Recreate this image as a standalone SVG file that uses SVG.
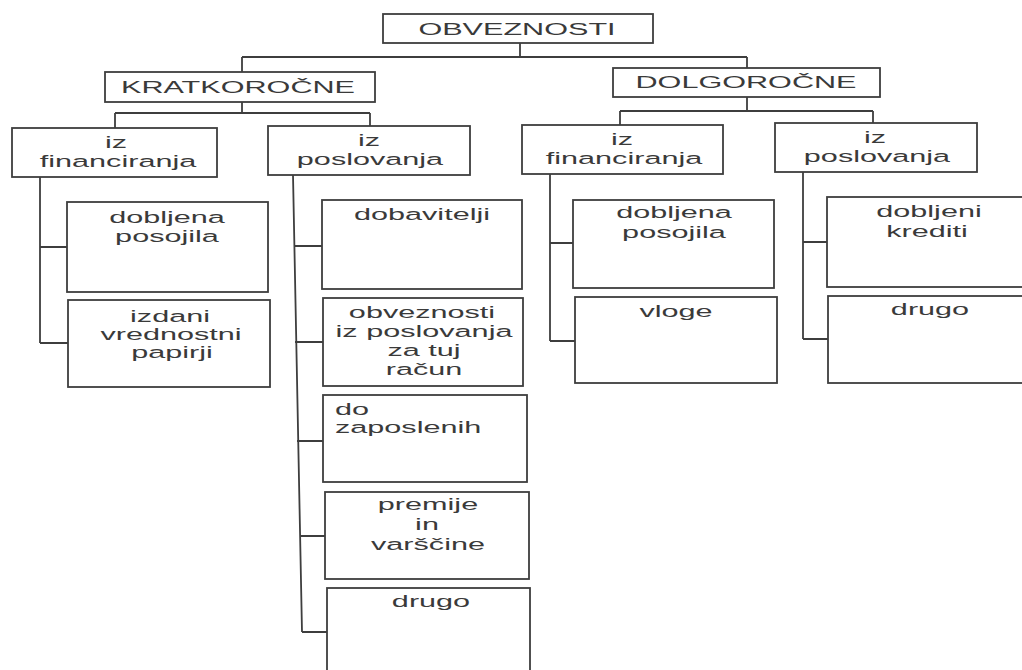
<svg xmlns="http://www.w3.org/2000/svg" width="1022" height="670" viewBox="0 0 1022 670">
  <style>
    .box { fill: #ffffff; stroke: #3e3e3e; stroke-width: 1.8; }
    .wire { fill: none; stroke: #3e3e3e; stroke-width: 1.8; }
    .lbl { font-family: "Liberation Sans", Arial, sans-serif; font-size: 17px; fill: #3a3a3a; text-anchor: middle; }
    .lft { text-anchor: start; }
  </style>
  <rect width="1022" height="670" fill="#ffffff"/>

  <!-- connectors -->
  <g id="connectors" class="wire">
    <path d="M520 43 V57 M242 57 H747 M242 57 V72 M747 57 V68"/>
    <path d="M242 102 V113 M115 113 H370 M115 113 V128 M370 113 V126"/>
    <path d="M747 97 V111 M620 111 H873 M620 111 V125 M873 111 V123"/>
    <path d="M40 177 V343 M40 247 H67 M40 343 H68"/>
    <path d="M293 175 L302 632 M294 246 H322 M295 342 H323 M297 441 H323 M300 536 H325 M302 632 H327"/>
    <path d="M550 174 V341 M550 243 H573 M550 341 H575"/>
    <path d="M803 172 V339 M803 242 H827 M803 339 H828"/>
  </g>

  <!-- root -->
  <g id="obveznosti">
    <rect class="box" x="383" y="14" width="270" height="29"/>
    <text class="lbl" transform="translate(517 0) scale(1.8 1)" x="0" y="35">OBVEZNOSTI</text>
  </g>

  <!-- short-term branch -->
  <g id="kratkorocne">
    <rect class="box" x="105" y="72" width="270" height="30"/>
    <text class="lbl" transform="translate(238 0) scale(1.8 1)" x="0" y="93">KRATKOROČNE</text>
  </g>
  <g id="k-financiranja">
    <rect class="box" x="12" y="128" width="205" height="49"/>
    <text class="lbl" transform="translate(116 0) scale(1.8 1)" x="0" y="148">iz</text>
    <text class="lbl" transform="translate(118 0) scale(1.8 1)" x="0" y="167">financiranja</text>
  </g>
  <g id="k-poslovanja">
    <rect class="box" x="268" y="126" width="202" height="49"/>
    <text class="lbl" transform="translate(369 0) scale(1.8 1)" x="0" y="146">iz</text>
    <text class="lbl" transform="translate(370 0) scale(1.8 1)" x="0" y="165">poslovanja</text>
  </g>
  <g id="k-posojila">
    <rect class="box" x="67" y="202" width="201" height="90"/>
    <text class="lbl" transform="translate(167 0) scale(1.8 1)" x="0" y="223">dobljena</text>
    <text class="lbl" transform="translate(167 0) scale(1.8 1)" x="0" y="242">posojila</text>
  </g>
  <g id="k-papirji">
    <rect class="box" x="68" y="300" width="202" height="87"/>
    <text class="lbl" transform="translate(170 0) scale(1.8 1)" x="0" y="322">izdani</text>
    <text class="lbl" transform="translate(171 0) scale(1.8 1)" x="0" y="340">vrednostni</text>
    <text class="lbl" transform="translate(172 0) scale(1.8 1)" x="0" y="358">papirji</text>
  </g>
  <g id="k-dobavitelji">
    <rect class="box" x="322" y="200" width="200" height="89"/>
    <text class="lbl" transform="translate(422 0) scale(1.8 1)" x="0" y="220">dobavitelji</text>
  </g>
  <g id="k-tuj-racun">
    <rect class="box" x="323" y="298" width="200" height="88"/>
    <text class="lbl" transform="translate(422 0) scale(1.8 1)" x="0" y="318">obveznosti</text>
    <text class="lbl" transform="translate(424 0) scale(1.8 1)" x="0" y="337">iz poslovanja</text>
    <text class="lbl" transform="translate(424 0) scale(1.8 1)" x="0" y="356">za tuj</text>
    <text class="lbl" transform="translate(424 0) scale(1.8 1)" x="0" y="375">račun</text>
  </g>
  <g id="k-zaposleni">
    <rect class="box" x="323" y="395" width="204" height="87"/>
    <text class="lbl lft" transform="translate(335 0) scale(1.8 1)" x="0" y="415">do</text>
    <text class="lbl lft" transform="translate(335 0) scale(1.8 1)" x="0" y="433">zaposlenih</text>
  </g>
  <g id="k-premije">
    <rect class="box" x="325" y="492" width="204" height="87"/>
    <text class="lbl" transform="translate(428 0) scale(1.8 1)" x="0" y="510">premije</text>
    <text class="lbl" transform="translate(427 0) scale(1.8 1)" x="0" y="530">in</text>
    <text class="lbl" transform="translate(428 0) scale(1.8 1)" x="0" y="550">varščine</text>
  </g>
  <g id="k-drugo">
    <rect class="box" x="327" y="588" width="203" height="100"/>
    <text class="lbl" transform="translate(431 0) scale(1.8 1)" x="0" y="607">drugo</text>
  </g>

  <!-- long-term branch -->
  <g id="dolgorocne">
    <rect class="box" x="613" y="68" width="267" height="29"/>
    <text class="lbl" transform="translate(746 0) scale(1.8 1)" x="0" y="88">DOLGOROČNE</text>
  </g>
  <g id="d-financiranja">
    <rect class="box" x="522" y="125" width="201" height="49"/>
    <text class="lbl" transform="translate(622 0) scale(1.8 1)" x="0" y="145">iz</text>
    <text class="lbl" transform="translate(624 0) scale(1.8 1)" x="0" y="164">financiranja</text>
  </g>
  <g id="d-poslovanja">
    <rect class="box" x="775" y="123" width="202" height="49"/>
    <text class="lbl" transform="translate(875 0) scale(1.8 1)" x="0" y="143">iz</text>
    <text class="lbl" transform="translate(877 0) scale(1.8 1)" x="0" y="162">poslovanja</text>
  </g>
  <g id="d-posojila">
    <rect class="box" x="573" y="200" width="201" height="88"/>
    <text class="lbl" transform="translate(674 0) scale(1.8 1)" x="0" y="218">dobljena</text>
    <text class="lbl" transform="translate(674 0) scale(1.8 1)" x="0" y="238">posojila</text>
  </g>
  <g id="d-vloge">
    <rect class="box" x="575" y="297" width="202" height="86"/>
    <text class="lbl" transform="translate(676 0) scale(1.8 1)" x="0" y="317">vloge</text>
  </g>
  <g id="d-krediti">
    <rect class="box" x="827" y="197" width="210" height="90"/>
    <text class="lbl" transform="translate(929 0) scale(1.8 1)" x="0" y="217">dobljeni</text>
    <text class="lbl" transform="translate(927 0) scale(1.8 1)" x="0" y="237">krediti</text>
  </g>
  <g id="d-drugo">
    <rect class="box" x="828" y="296" width="210" height="87"/>
    <text class="lbl" transform="translate(930 0) scale(1.8 1)" x="0" y="315">drugo</text>
  </g>
</svg>
